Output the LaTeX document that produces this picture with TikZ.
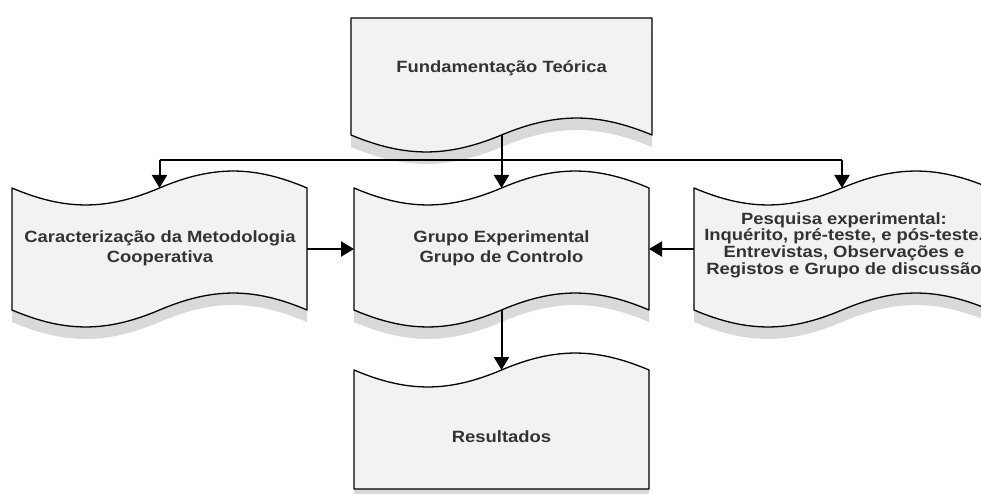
\documentclass[tikz,border=0pt]{standalone}
\usepackage{fontspec}
\newfontfamily\boxfont{Liberation Sans}[FakeStretch=1.13]
\usetikzlibrary{arrows.meta}

\definecolor{boxfill}{HTML}{F2F2F2}
\definecolor{boxshadow}{HTML}{D9D9D9}
\definecolor{boxtext}{HTML}{333333}

% Wavy banner: #1 = left x, #2 = top y, #3 = width, #4 = bottom y,
% #5 = amplitude of the top wave, #6 = amplitude of the bottom wave
\newcommand\bannerpath[6]{%
  (#1,#2)
  .. controls ({#1+0.18*#3},{#2+1.33*#5}) and ({#1+0.32*#3},{#2+1.33*#5}) .. ({#1+0.5*#3},#2)
  .. controls ({#1+0.68*#3},{#2-1.33*#5}) and ({#1+0.82*#3},{#2-1.33*#5}) .. ({#1+#3},#2)
  -- ({#1+#3},#4)
  .. controls ({#1+0.82*#3},{#4-1.33*#6}) and ({#1+0.68*#3},{#4-1.33*#6}) .. ({#1+0.5*#3},#4)
  .. controls ({#1+0.32*#3},{#4+1.33*#6}) and ({#1+0.18*#3},{#4+1.33*#6}) .. (#1,#4)
  -- cycle}
\newcommand\banner[6]{%
  \fill[boxshadow, shift={(0,12)}] \bannerpath{#1}{#2}{#3}{#4}{#5}{#6};
  \filldraw[fill=boxfill, draw=black, line width=1.3pt, line join=round] \bannerpath{#1}{#2}{#3}{#4}{#5}{#6};}

\begin{document}
\begin{tikzpicture}[x=1pt, y=-1pt,
  area/.style={inner sep=0pt, outer sep=0pt},
  label/.style={font=\boxfont\bfseries\fontsize{16.3}{20}\selectfont, text=boxtext, align=center, inner sep=0pt},
  conn/.style={line width=2pt},
  arr/.style={conn, -{Triangle[width=15pt, length=13pt]}}]
\clip (0,0) rectangle (981,494);

% shapes
\banner{351}{18}{301}{135}{0}{17}
\banner{12}{188}{295}{310}{17}{17}
\banner{354}{188}{295}{310}{17}{17}
\banner{694}{188}{296}{310}{17}{17}
\banner{354}{370}{295}{489}{17}{0}

% box areas used as connector anchors
\node[area, minimum width=301pt, minimum height=117pt] (fund) at (501.5,76.5) {};
\node[area, minimum width=295pt, minimum height=122pt] (metod) at (159.5,249) {};
\node[area, minimum width=295pt, minimum height=122pt] (grupo) at (501.5,249) {};
\node[area, minimum width=296pt, minimum height=122pt] (pesq) at (842,249) {};
\node[area, minimum width=295pt, minimum height=119pt] (result) at (501.5,429.5) {};

% texts
\node[label] (fundtxt) at (501.5,68) {Fundamentação Teórica};
\node[label] (metodtxt) at (160,248) {Caracterização da Metodologia\\Cooperativa};
\node[label] (grupotxt) at (501.5,248) {Grupo Experimental\\Grupo de Controlo};
\node[label, font=\boxfont\bfseries\fontsize{16.3}{16.7}\selectfont] (pesqtxt) at (844,245) {Pesquisa experimental:\\Inquérito, pré-teste, e pós-teste.\\Entrevistas, Observações e\\Registos e Grupo de discussão};
\node[label] (resulttxt) at (501.5,437) {Resultados};

% connectors
\coordinate (bus) at (0,160);
\draw[conn] (metod.north |- bus) -- (pesq.north |- bus);
\draw[arr] (metod.north |- bus) -- (metod.north);
\draw[arr] (pesq.north |- bus) -- (pesq.north);
\draw[arr] (fund.south) -- (grupo.north);
\draw[arr] (metod.east) -- (grupo.west);
\draw[arr] (pesq.west) -- (grupo.east);
\draw[arr] (grupo.south) -- (result.north);
\end{tikzpicture}
\end{document}
